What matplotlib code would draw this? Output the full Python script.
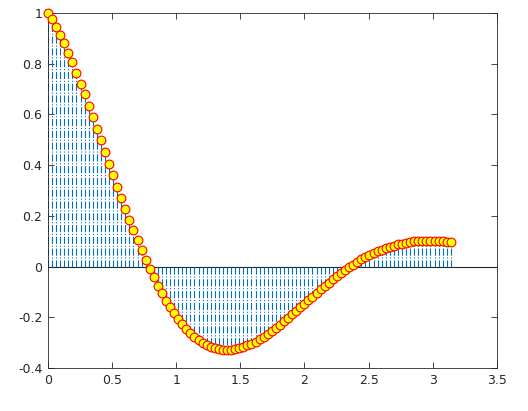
import numpy as np
import matplotlib.pyplot as plt
from matplotlib.ticker import FuncFormatter

# --------------------------------------------------------
# data
# --------------------------------------------------------
x = np.linspace(0, 3.1416, 100)
y = [1.000, 0.975, 0.946, 0.914, 0.880, 0.843, 0.805, 0.764, 0.722, 0.679,
     0.635, 0.590, 0.544, 0.498, 0.452, 0.406, 0.360, 0.315, 0.271, 0.227,
     0.184, 0.143, 0.103, 0.064, 0.027, -0.009, -0.043, -0.075, -0.105, -0.134,
     -0.160, -0.185, -0.207, -0.228, -0.247, -0.263, -0.278, -0.291, -0.302, -0.311,
     -0.318, -0.323, -0.327, -0.329, -0.330, -0.329, -0.326, -0.323, -0.318, -0.311,
     -0.304, -0.296, -0.286, -0.276, -0.265, -0.254, -0.242, -0.229, -0.216, -0.202,
     -0.188, -0.175, -0.160, -0.146, -0.132, -0.118, -0.104, -0.090, -0.077, -0.063,
     -0.050, -0.038, -0.026, -0.014, -0.003, 0.008, 0.018, 0.028, 0.037, 0.045,
     0.053, 0.060, 0.067, 0.073, 0.079, 0.083, 0.088, 0.091, 0.094, 0.097,
     0.099, 0.100, 0.101, 0.101, 0.101, 0.101, 0.100, 0.099, 0.097, 0.095]
xticks = [0, 0.5, 1, 1.5, 2, 2.5, 3, 3.5]
yticks = [-0.4, -0.2, 0, 0.2, 0.4, 0.6, 0.8, 1]

# --------------------------------------------------------
# plot
# --------------------------------------------------------
axcol = '#262626'
fig = plt.figure(figsize=(5.28, 4.11), dpi=100)
ax = fig.add_axes([0.0909, 0.1046, 0.850, 0.8637])
markerline, stemlines, baseline = ax.stem(x, y, linefmt='-.', basefmt=' ')
plt.setp(stemlines, color='#0072BD', linewidth=0.8)
plt.setp(markerline, marker='o', markersize=6.3, markerfacecolor='yellow',
         markeredgecolor='red', markeredgewidth=0.8, zorder=3, clip_on=False)
ax.axhline(0, color=axcol, linewidth=0.8, zorder=1)

ax.set_xlim(0, 3.5)
ax.set_ylim(-0.4, 1)
ax.set_xticks(xticks)
ax.set_yticks(yticks)
fmt = FuncFormatter(lambda v, p: f'{v:g}')
ax.xaxis.set_major_formatter(fmt)
ax.yaxis.set_major_formatter(fmt)
ax.tick_params(direction='in', top=True, right=True, length=4, width=0.6,
               labelsize=9, colors=axcol, pad=4)
for s in ax.spines.values():
    s.set_color(axcol)
    s.set_linewidth(0.6)

fig.savefig('out.png')
